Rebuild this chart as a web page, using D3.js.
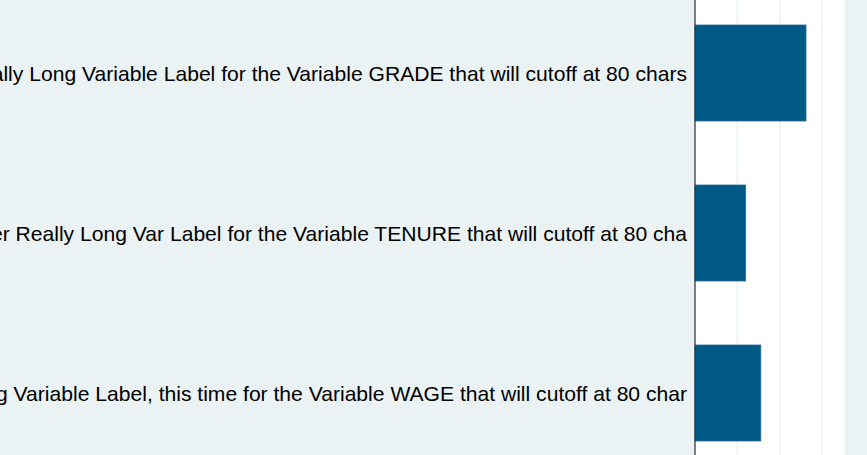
<!DOCTYPE html>
<html>
<head>
<meta charset="utf-8">
<script src="https://cdn.jsdelivr.net/npm/d3@7"></script>
<style>
  body { margin: 0; background: #eaf2f3; }
  svg { display: block; }
</style>
</head>
<body>
<div id="chart"></div>
<script>
// data: means of three variables, labels cut to 80 chars
var categories = ["grade", "tenure", "wage"];
var labels = [
    "A Really Long Variable Label for the Variable GRADE that will cutoff at 80 chars",
    "Another Really Long Var Label for the Variable TENURE that will cutoff at 80 cha",
    "Long Variable Label, this time for the Variable WAGE that will cutoff at 80 char"
];
var values = [13.09833, 5.97785, 7.766949];
var ticks = [0, 5, 10, 15];

const width = 867, height = 455;

var svg = d3.select("#chart")
    .append("svg")
    .attr("width", width)
    .attr("height", height);

svg.append("rect")
    .attr("width", width)
    .attr("height", height)
    .attr("fill", "#eaf2f3");

var x = d3.scaleLinear()
    .domain([0, 17.7])
    .range([695, 845]);

var y = d3.scaleBand()
    .domain(categories)
    .range([-7, 473])
    .paddingInner(0.4)
    .paddingOuter(0.2);

// plot region
svg.append("rect")
    .attr("x", x(0))
    .attr("y", 0)
    .attr("width", x.range()[1] - x(0))
    .attr("height", height)
    .attr("fill", "#ffffff");

// gridlines
svg.selectAll(".grid")
    .data(ticks.slice(1))
    .enter().append("line")
    .attr("class", "grid")
    .attr("x1", d => x(d)).attr("x2", d => x(d))
    .attr("y1", 0).attr("y2", height)
    .attr("stroke", "#eaf2f3")
    .attr("stroke-width", 1.5);

// bars
svg.selectAll(".bar")
    .data(values)
    .enter().append("rect")
    .attr("class", "bar")
    .attr("x", x(0))
    .attr("y", (d, i) => y(categories[i]))
    .attr("width", d => x(d) - x(0))
    .attr("height", y.bandwidth())
    .attr("fill", "#015a85")
    .attr("stroke", "#2a6f95")
    .attr("stroke-width", 0.8);

// axis line
svg.append("line")
    .attr("x1", x(0)).attr("x2", x(0))
    .attr("y1", 0).attr("y2", height)
    .attr("stroke", "#2b2b2b")
    .attr("stroke-width", 1.2);

// category labels
svg.selectAll(".lab")
    .data(labels)
    .enter().append("text")
    .attr("class", "lab")
    .attr("x", x(0) - 8)
    .attr("y", (d, i) => y(categories[i]) + y.bandwidth() / 2)
    .attr("dy", "0.36em")
    .attr("text-anchor", "end")
    .style("font-family", "Liberation Sans, Arial, sans-serif")
    .style("font-size", "21.1px")
    .style("fill", "#000")
    .text(d => d);
</script>
</body>
</html>
